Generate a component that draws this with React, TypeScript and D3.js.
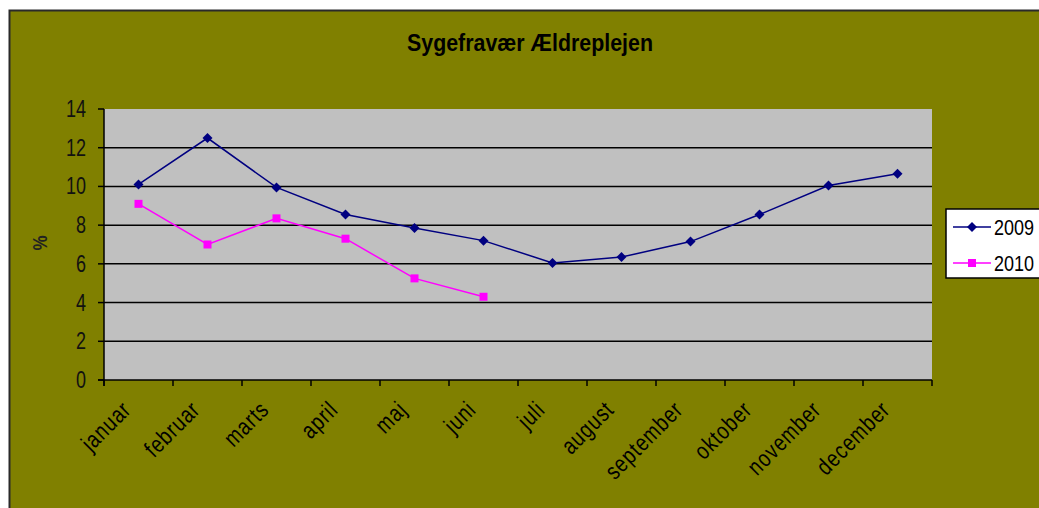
import React from "react";
import * as d3 from "d3";

const months = ["januar","februar","marts","april","maj","juni","juli","august","september","oktober","november","december"];
const values2009 = [10.1, 12.5, 9.95, 8.55, 7.85, 7.2, 6.05, 6.35, 7.15, 8.55, 10.05, 10.65];
const values2010 = [9.1, 7.0, 8.35, 7.3, 5.25, 4.3];
const yTicks = [0, 2, 4, 6, 8, 10, 12, 14];
const seriesNames = ["2009", "2010"];
const seriesColors = ["#000080", "#FF00FF"];

const W = 1039, H = 508;
const plot = { left: 104, right: 932, top: 109, bottom: 380 };
const diamond = "M0,-5L5,0L0,5L-5,0Z";

export default function App() {
  const x = d3.scaleBand<string>().domain(months).range([plot.left, plot.right]).padding(0);
  const y = d3.scaleLinear().domain([0, 14]).range([plot.bottom, plot.top]);
  const cx = (m: string) => (x(m) ?? 0) + x.bandwidth() / 2;
  const line = d3.line<number>().x((_, i) => cx(months[i])).y((d) => y(d));
  const font = "'Liberation Sans', Arial, sans-serif";
  const ticksX = months.map((m) => x(m) ?? 0).concat([plot.right]);

  return (
    <svg width={W} height={H} style={{ position: "absolute", left: 0, top: 0, background: "#fff" }} fontFamily={font}>
      <rect x={9.5} y={10.5} width={1040} height={510} fill="#808000" stroke="#2a2a2a" strokeWidth={2} />
      <text transform="translate(530,51) scale(1,1.15)" textAnchor="middle" fontWeight="bold" fontSize={20} fill="#000" textLength={246} lengthAdjust="spacingAndGlyphs">Sygefravær Ældreplejen</text>

      <rect x={plot.left} y={plot.top} width={plot.right - plot.left} height={plot.bottom - plot.top} fill="#C0C0C0" />
      {yTicks.filter((t) => t > 0 && t < 14).map((t) => (
        <line key={t} x1={plot.left} x2={plot.right} y1={y(t)} y2={y(t)} stroke="#000" strokeWidth={1.5} />
      ))}
      <line x1={plot.left} x2={plot.left} y1={plot.top} y2={plot.bottom + 6} stroke="#000" strokeWidth={1.5} />
      <line x1={plot.left - 6} x2={plot.right} y1={plot.bottom} y2={plot.bottom} stroke="#000" strokeWidth={1.5} />
      {yTicks.map((t) => (
        <g key={t}>
          <line x1={plot.left - 6} x2={plot.left} y1={y(t)} y2={y(t)} stroke="#000" strokeWidth={1.5} />
          <text transform={`translate(86,${y(t) + 8}) scale(1,1.35)`} textAnchor="end" fontSize={18} fill="#111">{t}</text>
        </g>
      ))}
      {ticksX.map((tx, i) => (
        <line key={i} x1={tx} x2={tx} y1={plot.bottom} y2={plot.bottom + 6} stroke="#000" strokeWidth={1.5} />
      ))}
      {months.map((m) => (
        <text key={m} transform={`translate(${cx(m) - 6},${plot.bottom + 31}) rotate(-45) scale(1,1.25)`} textAnchor="end" fontSize={19} letterSpacing={1} fill="#000">{m}</text>
      ))}
      <text transform={`translate(47,243) rotate(-90) scale(1,1.15)`} textAnchor="middle" fontWeight="bold" fontSize={17} fill="#222">%</text>

      <path d={line(values2009) ?? ""} fill="none" stroke={seriesColors[0]} strokeWidth={1.5} />
      <path d={line(values2010) ?? ""} fill="none" stroke={seriesColors[1]} strokeWidth={1.5} />
      {values2009.map((v, i) => (
        <path key={i} d={diamond} transform={`translate(${cx(months[i])},${y(v)})`} fill={seriesColors[0]} />
      ))}
      {values2010.map((v, i) => (
        <rect key={i} x={cx(months[i]) - 4} y={y(v) - 4} width={8} height={8} fill={seriesColors[1]} />
      ))}

      <rect x={946} y={209} width={110} height={69} fill="#fff" stroke="#000" strokeWidth={1.5} />
      {seriesNames.map((s, i) => {
        const ly = 227 + i * 36;
        return (
          <g key={s}>
            <line x1={953} x2={991} y1={ly} y2={ly} stroke={seriesColors[i]} strokeWidth={1.5} />
            {i === 0 ? (
              <path d={diamond} transform={`translate(972,${ly})`} fill={seriesColors[i]} />
            ) : (
              <rect x={968} y={ly - 4} width={8} height={8} fill={seriesColors[i]} />
            )}
            <text transform={`translate(994,${ly + 8}) scale(1,1.25)`} fontSize={18} fill="#000">{s}</text>
          </g>
        );
      })}
    </svg>
  );
}
